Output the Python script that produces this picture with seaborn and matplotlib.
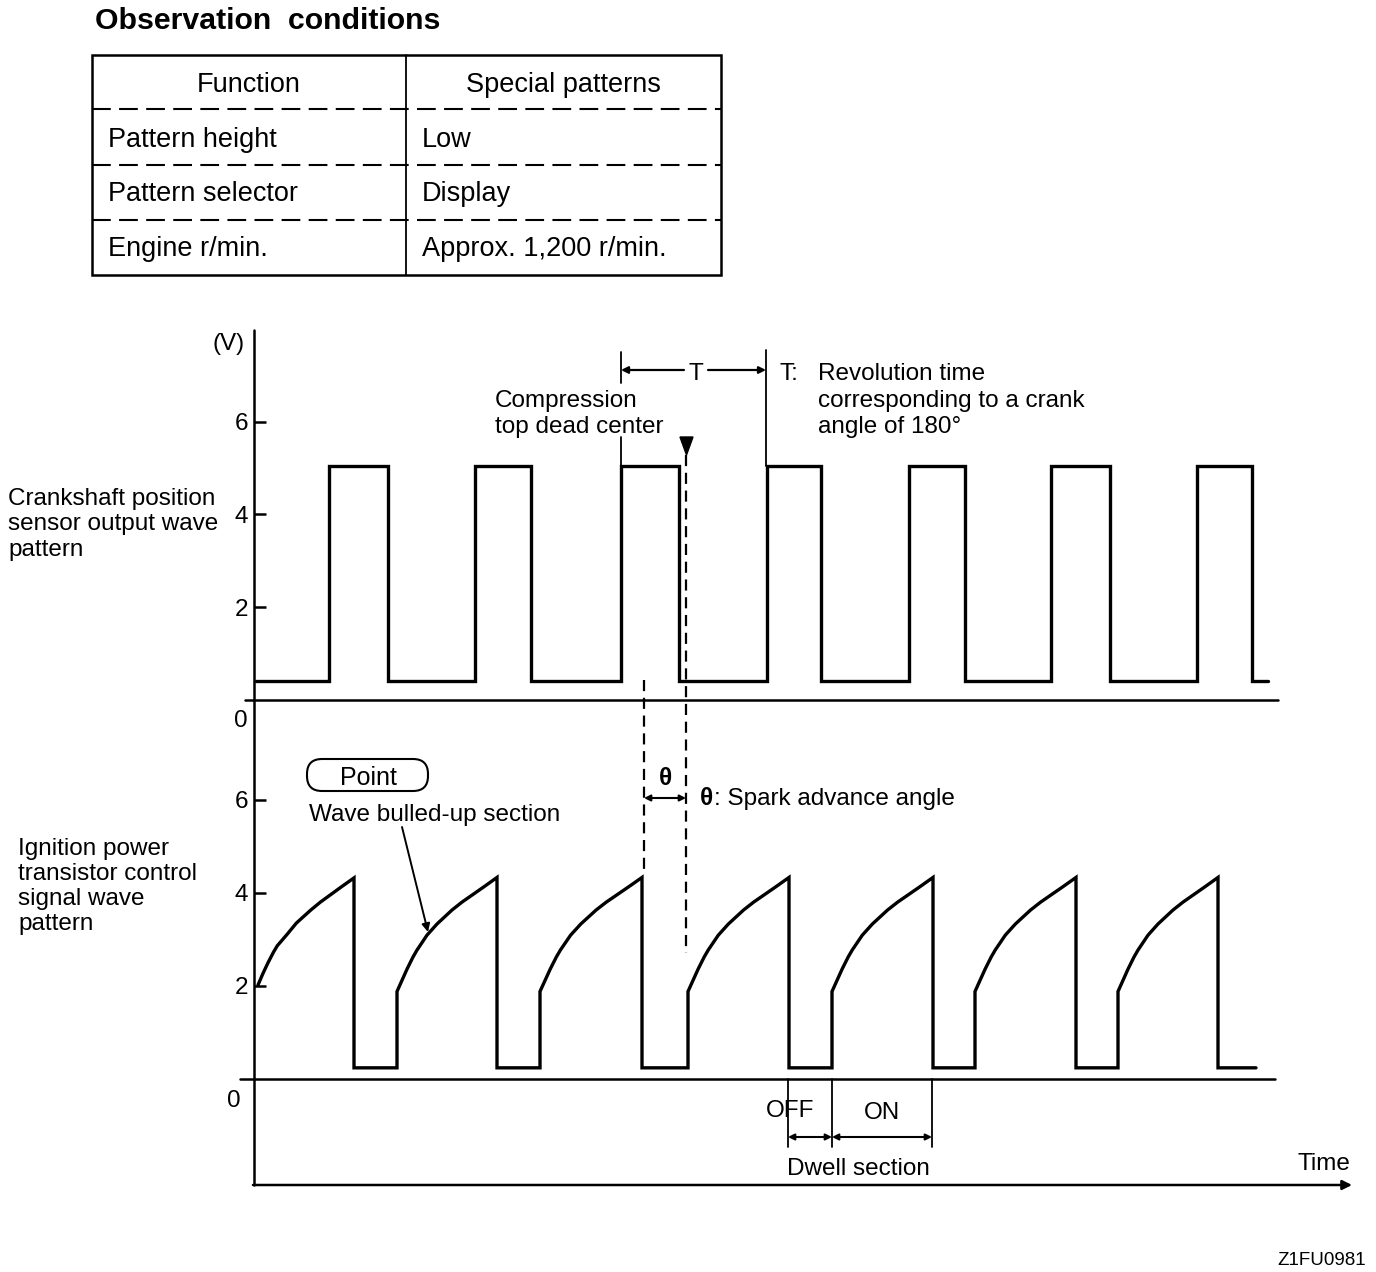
import matplotlib
matplotlib.use("Agg")
import matplotlib.pyplot as plt
import seaborn as sns
import pandas as pd
from matplotlib.patches import FancyBboxPatch, Polygon, Rectangle

# ---------------- data (time axis in arbitrary units) ----------------
crank_rise = [329, 475, 621, 767, 909, 1051, 1197]
crank_fall = [388, 531, 679, 821, 965, 1110, 1252]
crank_start, crank_end = 256, 1268
crank_high, crank_low = 5.04, 0.40

ign_ramp_start = [258, 397, 540, 688, 832, 975, 1118]
ign_drop = [354, 497, 642, 789, 933, 1076, 1218]
ign_end = 1256
ign_low = 0.24
ramp_frac = [0, 0.05, 0.10, 0.16, 0.20, 0.30, 0.40, 0.55, 0.65, 0.75, 0.87, 1.0]
ramp_volt = [1.88, 2.12, 2.36, 2.62, 2.77, 3.09, 3.33, 3.63, 3.80, 3.95, 4.13, 4.33]
first_ramp_volt = [2.02, 2.26, 2.48, 2.72, 2.86, 3.10, 3.35, 3.63, 3.80, 3.95, 4.13, 4.32]

volt_ticks = [2, 4, 6]

table_header = ["Function", "Special patterns"]
table_rows = [["Pattern height", "Low"],
              ["Pattern selector", "Display"],
              ["Engine r/min.", "Approx. 1,200 r/min."]]

# ---------------- build series ----------------
ct, cv = [crank_start], [crank_low]
for r, f in zip(crank_rise, crank_fall):
    ct += [r, r, f, f]
    cv += [crank_low, crank_high, crank_high, crank_low]
ct.append(crank_end); cv.append(crank_low)
crank_df = pd.DataFrame({"time": ct, "volt": cv})

it, iv = [], []
for i, (s, d) in enumerate(zip(ign_ramp_start, ign_drop)):
    prof = first_ramp_volt if i == 0 else ramp_volt
    for fr, vv in zip(ramp_frac, prof):
        it.append(s + fr * (d - s))
        iv.append(vv)
    it.append(d); iv.append(ign_low)
    nxt = ign_ramp_start[i + 1] if i + 1 < len(ign_ramp_start) else ign_end
    it.append(nxt); iv.append(ign_low)
ign_df = pd.DataFrame({"time": it, "volt": iv})

# ---------------- figure ----------------
sns.set_theme(style="white")
plt.rcParams["font.family"] = ["Liberation Sans", "DejaVu Sans"]
W, H = 1376, 1272
fig = plt.figure(figsize=(W / 100, H / 100), dpi=100)

PXV_T = 46.38
PXV_B = 46.55
x0, x1 = 254, 1350
ax_top = fig.add_axes([x0 / W, 1 - 700 / H, (x1 - x0) / W, 370 / H])
ax_bot = fig.add_axes([x0 / W, 1 - 1185 / H, (x1 - x0) / W, 485 / H])
ax_top.set_ylim(0, 370 / PXV_T)
ax_bot.set_ylim(-(1185 - 1079) / PXV_B, (1079 - 700) / PXV_B)

LW = 2.4
sns.lineplot(data=crank_df, x="time", y="volt", ax=ax_top, sort=False, estimator=None,
             color="black", lw=LW, solid_joinstyle="miter")
sns.lineplot(data=ign_df, x="time", y="volt", ax=ax_bot, sort=False, estimator=None,
             color="black", lw=LW, solid_joinstyle="miter")

for ax in (ax_top, ax_bot):
    ax.set_xlim(x0, x1)
    ax.set_xlabel(""); ax.set_ylabel("")
    ax.set_xticks([])
    ax.set_yticks(volt_ticks)
    ax.set_yticklabels([str(v) for v in volt_ticks])
    ax.tick_params(axis="y", direction="in", length=8.6, width=1.8, pad=4.5,
                   labelsize=17.5, colors="black", left=True)
    for sp in ax.spines.values():
        sp.set_visible(False)
    ax.patch.set_alpha(0)
    ax.grid(False)

# zero lines
ax_top.plot([245, 1278], [0, 0], color="black", lw=1.8, clip_on=False)
ax_bot.plot([240, 1275], [0, 0], color="black", lw=1.8, clip_on=False)

# ---------------- overlay in pixel coordinates ----------------
ov = fig.add_axes([0, 0, 1, 1])
ov.set_xlim(0, W); ov.set_ylim(H, 0)
ov.axis("off")
ov.patch.set_alpha(0)


def txt(x, yc, s, size=17.5, ha="left", weight="normal", **kw):
    base = yc + 0.358 * size * 100 / 72
    ov.text(x, base, s, fontsize=size, ha=ha, va="baseline", weight=weight,
            color="black", **kw)


# title + table
txt(95, 18, "Observation  conditions", size=21.8, weight="bold")
ov.add_patch(Rectangle((92, 55), 629, 220, fill=False, lw=1.8, ec="black"))
ov.plot([406, 406], [55, 275], color="black", lw=1.3)
for yy in (109, 165, 220):
    ov.plot([92, 721], [yy, yy], color="black", lw=1.5, ls=(0, (9, 4)))
txt(249, 82, table_header[0], size=19.5, ha="center")
txt(563, 82, table_header[1], size=19.5, ha="center")
for (a, b), yc in zip(table_rows, (137, 191, 246)):
    txt(108, yc, a, size=19.5)
    txt(422, yc, b, size=19.5)

# vertical axis and time arrow
ov.plot([254, 254], [330, 1185], color="black", lw=1.8)
ov.annotate("", xy=(1352, 1185), xytext=(253, 1185),
            arrowprops=dict(arrowstyle="-|>", lw=1.8, color="black",
                            mutation_scale=14, shrinkA=0, shrinkB=0))
txt(1297, 1161, "Time")
txt(1366, 1258, "Z1FU0981", size=13.5, ha="right")

# axis labels
txt(212, 341, "(V)")
txt(241, 718, "0", ha="center")
txt(234, 1098, "0", ha="center")
for s, yc in zip(["Crankshaft position", "sensor output wave", "pattern"], (496, 521, 547)):
    txt(8, yc, s)
for s, yc in zip(["Ignition power", "transistor control", "signal wave", "pattern"],
                 (846, 871, 896, 921)):
    txt(18, yc, s)

# T bracket
ov.plot([621, 621], [352, 383], color="black", lw=1.3)
ov.plot([621, 621], [437, 466], color="black", lw=1.3)
ov.plot([766, 766], [350, 466], color="black", lw=1.3)
ap = dict(arrowstyle="-|>", lw=1.6, color="black", mutation_scale=10, shrinkA=0, shrinkB=0)
ov.annotate("", xy=(621, 370), xytext=(684, 370), arrowprops=ap)
ov.annotate("", xy=(766, 370), xytext=(708, 370), arrowprops=ap)
txt(696, 371, "T", ha="center")
txt(779, 371, "T:")
txt(818, 371, "Revolution time")
txt(818, 398, "corresponding to a crank")
txt(818, 424, "angle of 180°")
txt(495, 398, "Compression")
txt(495, 424, "top dead center")
ov.add_patch(Polygon([(680, 437), (693, 437), (686.5, 455)], closed=True, fc="black", ec="black"))

# dashed verticals
ov.plot([644, 644], [680, 875], color="black", lw=1.6, ls=(0, (5, 3)))
ov.plot([686, 686], [455, 953], color="black", lw=1.6, ls=(0, (5, 3)))

# theta
ap2 = dict(arrowstyle="<|-|>", lw=1.5, color="black", mutation_scale=9, shrinkA=0, shrinkB=0)
ov.annotate("", xy=(644, 798), xytext=(686, 798), arrowprops=ap2)
txt(666, 776, "θ", ha="center", weight="bold")
txt(700, 796, "θ", weight="bold")
txt(714, 796, ": Spark advance angle")

# Point box
ov.add_patch(FancyBboxPatch((307, 759), 121, 32, boxstyle="round,pad=0,rounding_size=15",
                            fill=False, lw=1.5, ec="black"))
txt(368, 776, "Point", ha="center", size=18)
txt(309, 812, "Wave bulled-up section")
ov.annotate("", xy=(428, 932), xytext=(402, 827),
            arrowprops=dict(arrowstyle="-|>", lw=1.4, color="black",
                            mutation_scale=12, shrinkA=0, shrinkB=0))

# dwell section
for xx in (788, 832, 932):
    ov.plot([xx, xx], [1079, 1147], color="black", lw=1.3)
ov.annotate("", xy=(788, 1137), xytext=(832, 1137), arrowprops=ap2)
ov.annotate("", xy=(832, 1137), xytext=(932, 1137), arrowprops=ap2)
txt(790, 1108, "OFF", ha="center")
txt(882, 1110, "ON", ha="center")
txt(858, 1166, "Dwell section", ha="center")

fig.savefig("out.png", dpi=100, facecolor="white")
